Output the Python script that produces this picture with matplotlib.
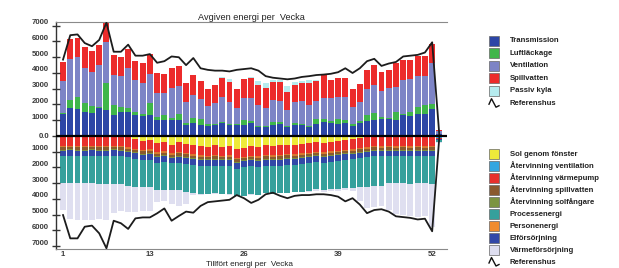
import matplotlib
matplotlib.use('Agg')
import matplotlib.pyplot as plt
from matplotlib.patches import Rectangle
from matplotlib.lines import Line2D
from matplotlib.transforms import ScaledTranslation
import numpy as np

plt.rcParams['font.family'] = ['Liberation Sans', 'DejaVu Sans']

weeks = list(range(1, 54))
xtick_weeks = [1, 13, 26, 39, 52]
yticks_upper = [1000, 2000, 3000, 4000, 5000, 6000, 7000]
yticks_lower = [1000, 2000, 3000, 4000, 5000, 6000, 7000]

# ---- Avgiven energi (upper, stacked) ----
transmission = [1380, 1760, 1690, 1540, 1480, 1760, 1650, 1330, 1540, 1540, 1330, 1300, 1330, 1020, 1000, 1000, 1020,
                700, 850, 700, 650, 700, 800, 700, 700, 700, 800, 600, 600, 700, 750, 600, 700, 700, 600, 760, 900,
                800, 760, 850, 650, 800, 950, 1020, 1100, 1100, 1020, 1310, 1250, 1380, 1380, 1720, 100]
luftlackage = [70, 530, 810, 530, 420, 100, 1700, 640, 320, 220, 210, 80, 740, 170, 330, 140, 360,
               100, 270, 370, 80, 60, 70, 60, 60, 320, 130, 35, 35, 170, 120, 50, 100, 60, 35, 320, 180,
               150, 320, 170, 110, 150, 380, 420, 130, 60, 530, 70, 250, 480, 590, 290, 10]
ventilation = [2040, 2580, 2500, 2230, 2180, 2650, 2640, 1900, 1950, 2580, 2020, 2010, 1870, 1560, 1380, 1890, 1820,
               1360, 1500, 1290, 1150, 1360, 1630, 1380, 1000, 1370, 1500, 1335, 1165, 1420, 1350, 1000, 1340, 1440,
               1335, 1140, 1310, 1440, 1420, 1480, 1100, 1190, 1650, 1800, 1630, 1910, 1580, 2180, 2120, 1970, 1860,
               2600, 190]
spillvatten = [1230, 1270, 1200, 1370, 1340, 1270, 1160, 1270, 1230, 1160, 1200, 1220, 1270, 1230, 1230, 1270, 1220,
               1190, 1250, 1140, 1120, 1140, 1160, 1310, 1220, 1230, 1230, 1270, 1270, 1160, 1230, 1160, 1100, 1150,
               1380, 1270, 1480, 1170, 1160, 1200, 1120, 1140, 1210, 1270, 1180, 1120, 1480, 1270, 1210, 1270, 1270,
               1210, 100]
passiv_kyla = [0, 0, 0, 0, 0, 0, 0, 0, 0, 0, 0, 0, 0, 0, 0, 0, 0,
               0, 0, 0, 0, 0, 60, 150, 0, 0, 80, 250, 300, 100, 100, 350, 200, 150,
               200, 60, 0, 0, 0, 0, 0, 0, 0, 0, 0, 0, 0, 0, 0, 0, 0, 0, 0]
referens_avgiven = [4850, 6400, 6450, 5900, 5700, 6100, 7200, 5350, 5350, 5800, 5100, 5100, 5200, 4650, 4750, 5050,
                    5000, 4500, 4950, 4300, 4200, 4150, 4150, 4100, 4200, 4250, 4300, 4150, 3800, 3700, 3650, 3600,
                    3650, 3750, 3800, 3870, 3900, 3950, 4050, 4300, 4000, 4300, 4750, 4900, 4450, 4600, 4700, 5050,
                    5100, 5150, 5300, 5950, 0]

# ---- Tillfört energi (lower, stacked downwards) ----
sol_fonster = [0, 0, 0, 0, 0, 0, 0, 0, 30, 80, 200, 330, 250, 450, 380, 550, 380, 500, 600, 650, 700, 600, 700, 650,
               820, 750, 650, 700, 600, 650, 600, 550, 550, 500, 450, 400, 420, 350, 300, 250, 200, 120, 60, 0, 0,
               0, 0, 0, 0, 0, 0, 0, 0]
atervinning_vent = [0, 0, 0, 0, 0, 0, 0, 0, 0, 0, 0, 0, 0, 0, 0, 0, 0, 0, 0, 0, 0, 0, 0, 0, 0, 0, 0, 0, 0, 0, 0,
                    0, 0, 0, 0, 0, 0, 0, 0, 0, 0, 0, 0, 0, 0, 0, 0, 0, 0, 0, 0, 0, 120]
atervinning_vp = [640, 620, 630, 640, 620, 630, 640, 620, 600, 640, 600, 560, 600, 590, 600, 550, 630, 580, 560, 580,
                  560, 600, 560, 580, 570, 560, 600, 590, 600, 580, 600, 590, 600, 610, 620, 600, 620, 630, 640, 620,
                  640, 640, 650, 640, 650, 640, 650, 640, 650, 640, 650, 640, 60]
personenergi = [90, 90, 85, 90, 95, 90, 90, 85, 90, 90, 90, 85, 90, 90, 90, 85, 90, 90, 90, 85, 90, 90, 90, 85, 90,
                90, 90, 85, 90, 90, 90, 85, 90, 90, 90, 85, 90, 90, 90, 85, 90, 90, 90, 85, 90, 90, 90, 85, 90, 90,
                90, 85, 0]
atervinning_spill = [140, 140, 145, 140, 135, 140, 140, 145, 140, 140, 140, 145, 140, 140, 140, 145, 140, 140, 140,
                     145, 140, 140, 140, 145, 140, 140, 140, 145, 140, 140, 140, 145, 140, 140, 140, 145, 140, 140,
                     140, 145, 140, 140, 140, 145, 140, 140, 140, 145, 140, 140, 140, 145, 0]
atervinning_solf = [65, 65, 65, 65, 65, 65, 65, 65, 65, 65, 65, 65, 65, 65, 65, 65, 65, 65, 65, 65, 65, 65, 65, 65,
                    65, 65, 65, 65, 65, 65, 65, 65, 65, 65, 65, 65, 65, 65, 65, 65, 65, 65, 65, 65, 65, 65, 65, 65,
                    65, 65, 65, 65, 0]
elforsorjning = [340, 340, 340, 340, 340, 340, 340, 340, 340, 350, 350, 350, 350, 350, 350, 350, 380, 380, 380, 380,
                 380, 380, 380, 380, 380, 380, 380, 380, 380, 380, 380, 380, 380, 380, 380, 360, 360, 360, 360, 360,
                 350, 350, 350, 350, 350, 340, 340, 340, 340, 340, 340, 340, 80]
processenergi = [1730, 1720, 1740, 1730, 1750, 1800, 1790, 1810, 1800, 1780, 1785, 1695, 1735, 1745, 1805, 1685,
                 1760, 1795, 1780, 1750, 1745, 1770, 1760, 1780, 1745, 1800, 1760, 1750, 1770, 1760, 1750, 1790,
                 1760, 1770, 1760, 1740, 1735, 1760, 1750, 1770, 1800, 1850, 1870, 1860, 1850, 1740, 1730, 1720,
                 1740, 1730, 1720, 1750, 150]
varmeforsorjning = [1700, 2300, 2300, 2300, 2300, 2200, 2300, 1800, 1700, 1650, 1570, 1550, 1550, 770, 700, 900,
                    970, 750, 160, 80, 0, 60, 0, 40, 0, 0, 50, 0, 0, 0, 0, 0, 0, 0, 40, 80, 100, 120, 150, 150,
                    200, 850, 1350, 1350, 1300, 1700, 1950, 2000, 2050, 2150, 2100, 2750, 60]
referens_tillfort = [5020, 6500, 6500, 5760, 5690, 6180, 7130, 5380, 5540, 5900, 5230, 5170, 5170, 4910, 4600, 5380,
                     5080, 4800, 4870, 4440, 4200, 4150, 4100, 4050, 3750, 3950, 4250, 4050, 3700, 3600, 3800, 3950,
                     3800, 3750, 3750, 3700, 3700, 3750, 3850, 4150, 3950, 4350, 4900, 4700, 4650, 4800, 5100, 5150,
                     5200, 5300, 5250, 6050, 0]

upper_labels = ['Transmission', 'Luftläckage', 'Ventilation', 'Spillvatten', 'Passiv kyla']
upper_series = [transmission, luftlackage, ventilation, spillvatten, passiv_kyla]
upper_colors = ['#2c46a6', '#3fb64a', '#7d84c6', '#ec2b2b', '#b6ecef']

lower_legend = ['Sol genom fönster', 'Återvinning ventilation', 'Återvinning värmepump', 'Återvinning spillvatten',
                'Återvinning solfångare', 'Processenergi', 'Personenergi', 'Elförsörjning', 'Värmeförsörjning']
lower_legend_colors = ['#eeea3a', '#34a6e0', '#e8302c', '#8a5a2e', '#7c9440', '#35a09c', '#f08c2e', '#3248a8',
                       '#dedef0']
# drawing order (from zero downwards) as seen in the chart
lower_series = [sol_fonster, atervinning_vent, atervinning_vp, personenergi, atervinning_spill, atervinning_solf,
                elforsorjning, processenergi, varmeforsorjning]
lower_colors = ['#eeea3a', '#34a6e0', '#e8302c', '#d8782e', '#8a5a2e', '#7c9440', '#3248a8', '#35a09c', '#dfdff0']

W, H = 619, 268
fig = plt.figure(figsize=(W / 100, H / 100), dpi=100)
ax = fig.add_axes([56 / W, 1 - 249 / H, (447 - 56) / W, (249 - 22) / H])

x = np.array(weeks)
bw = 0.82
cum = np.zeros(len(x))
for vals, col in zip(upper_series, upper_colors):
    v = np.array(vals, dtype=float)
    ax.bar(x, v, bottom=cum, width=bw, color=col, linewidth=0)
    cum += v
cum = np.zeros(len(x))
for vals, col in zip(lower_series, lower_colors):
    v = np.array(vals, dtype=float)
    ax.bar(x, -v, bottom=-cum, width=bw, color=col, linewidth=0)
    cum += v

ax.plot(x, referens_avgiven, color='#1c1c1c', lw=1.3, zorder=5)
ax.plot(x, -np.array(referens_tillfort), color='#1c1c1c', lw=1.3, zorder=5)
ax.axhline(0, color='black', lw=1.6, zorder=6)

ax.set_xlim(0.03, 54.05)
ax.set_ylim(-7175, 7238)

ax.spines['right'].set_visible(False)
ax.spines['top'].set_color('#8a8a8a')
ax.spines['bottom'].set_color('#8a8a8a')
ax.spines['left'].set_color('#333333')
ax.spines['left'].set_linewidth(1.0)

ytick_vals = [-v for v in yticks_lower[::-1]] + [0] + yticks_upper
ytick_labs = [str(v) for v in yticks_lower[::-1]] + ['0.0'] + [str(v) for v in yticks_upper]
ax.set_yticks(ytick_vals)
ax.set_yticklabels(ytick_labs)
ax.set_xticks(xtick_weeks)
ax.set_xticklabels([str(w) for w in xtick_weeks])
ax.tick_params(axis='y', direction='inout', length=6, width=1, color='#333333', labelsize=5.6,
               labelcolor='#3a3a3a', pad=2)
ax.tick_params(axis='x', length=0, labelsize=5.6, labelcolor='#3a3a3a', pad=1.5)
for lab in ax.get_yticklabels() + ax.get_xticklabels():
    lab.set_fontweight('bold')
for lab, v in zip(ax.get_yticklabels(), ytick_vals):
    if v != 0:
        lab.set_transform(lab.get_transform() + ScaledTranslation(0, 4 / 100, fig.dpi_scale_trans))

fig.text(251 / W, 1 - 17 / H, 'Avgiven energi per  Vecka', ha='center', va='center', fontsize=6.6, color='#222222')
fig.text(249 / W, 1 - 267.6 / H, 'Tillfört energi per  Vecka', ha='center', va='bottom', fontsize=5.9,
         color='#222222')

# legends
def legend_block(labels, colors, y0, dy):
    for i, (lab, col) in enumerate(zip(labels, colors)):
        yc = y0 + i * dy
        fig.add_artist(Rectangle((489 / W, 1 - (yc + 5) / H), 10 / W, 10 / H, transform=fig.transFigure,
                                 facecolor=col, edgecolor='#666666', linewidth=0.5))
        fig.text(510 / W, 1 - yc / H, lab, ha='left', va='center', fontsize=5.6, fontweight='bold',
                 color='#222222')
    yc = y0 + len(labels) * dy
    px = [489, 491.5, 496, 499]
    py = [yc + 1, yc - 4.5, yc + 4, yc + 2.5]
    fig.add_artist(Line2D([p / W for p in px], [1 - p / H for p in py], transform=fig.transFigure,
                          color='#111111', lw=1.0))
    fig.text(510 / W, 1 - yc / H, 'Referenshus', ha='left', va='center', fontsize=5.6, fontweight='bold',
             color='#222222')

legend_block(upper_labels, upper_colors, 40.7, 12.5)
legend_block(lower_legend, lower_legend_colors, 154, 12.0)

fig.savefig('out.png', dpi=100)
